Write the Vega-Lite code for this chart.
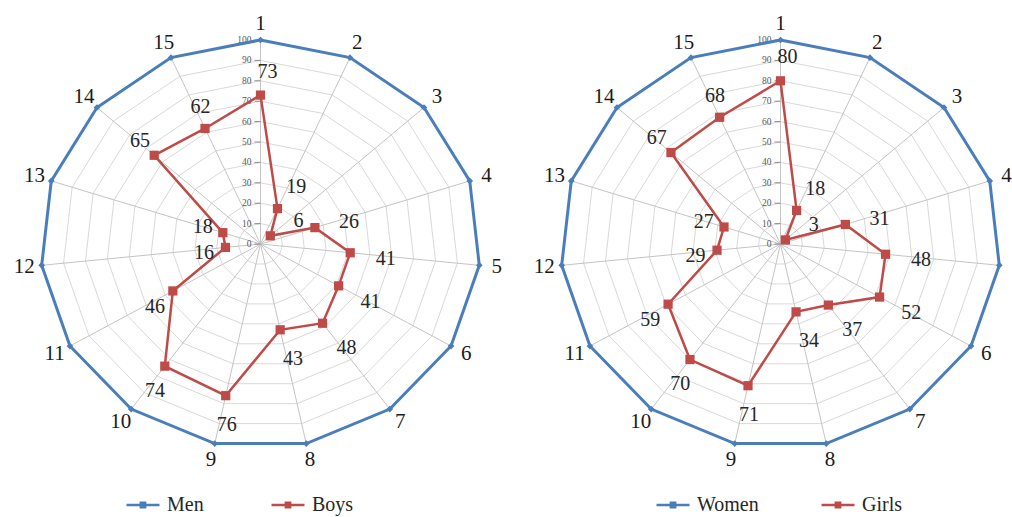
{
  "$schema": "https://vega.github.io/schema/vega-lite/v6.json",
  "padding": 0,
  "spacing": 0,
  "background": "white",
  "config": {"view": {"stroke": null}, "font": "Liberation Serif"},
  "datasets": {
    "levels": [
      {"level": 0, "axis": [1,2,3,4,5,6,7,8,9,10,11,12,13,14,15]},
      {"level": 10, "axis": [1,2,3,4,5,6,7,8,9,10,11,12,13,14,15]},
      {"level": 20, "axis": [1,2,3,4,5,6,7,8,9,10,11,12,13,14,15]},
      {"level": 30, "axis": [1,2,3,4,5,6,7,8,9,10,11,12,13,14,15]},
      {"level": 40, "axis": [1,2,3,4,5,6,7,8,9,10,11,12,13,14,15]},
      {"level": 50, "axis": [1,2,3,4,5,6,7,8,9,10,11,12,13,14,15]},
      {"level": 60, "axis": [1,2,3,4,5,6,7,8,9,10,11,12,13,14,15]},
      {"level": 70, "axis": [1,2,3,4,5,6,7,8,9,10,11,12,13,14,15]},
      {"level": 80, "axis": [1,2,3,4,5,6,7,8,9,10,11,12,13,14,15]},
      {"level": 90, "axis": [1,2,3,4,5,6,7,8,9,10,11,12,13,14,15]},
      {"level": 100, "axis": [1,2,3,4,5,6,7,8,9,10,11,12,13,14,15]}
    ],
    "left": [
      {"series": "Men", "axis": 1, "value": 100}, {"series": "Men", "axis": 2, "value": 100}, {"series": "Men", "axis": 3, "value": 100},
      {"series": "Men", "axis": 4, "value": 100}, {"series": "Men", "axis": 5, "value": 100}, {"series": "Men", "axis": 6, "value": 100},
      {"series": "Men", "axis": 7, "value": 100}, {"series": "Men", "axis": 8, "value": 100}, {"series": "Men", "axis": 9, "value": 100},
      {"series": "Men", "axis": 10, "value": 100}, {"series": "Men", "axis": 11, "value": 100}, {"series": "Men", "axis": 12, "value": 100},
      {"series": "Men", "axis": 13, "value": 100}, {"series": "Men", "axis": 14, "value": 100}, {"series": "Men", "axis": 15, "value": 100},
      {"series": "Boys", "axis": 1, "value": 73}, {"series": "Boys", "axis": 2, "value": 19}, {"series": "Boys", "axis": 3, "value": 6},
      {"series": "Boys", "axis": 4, "value": 26}, {"series": "Boys", "axis": 5, "value": 41}, {"series": "Boys", "axis": 6, "value": 41},
      {"series": "Boys", "axis": 7, "value": 48}, {"series": "Boys", "axis": 8, "value": 43}, {"series": "Boys", "axis": 9, "value": 76},
      {"series": "Boys", "axis": 10, "value": 74}, {"series": "Boys", "axis": 11, "value": 46}, {"series": "Boys", "axis": 12, "value": 16},
      {"series": "Boys", "axis": 13, "value": 18}, {"series": "Boys", "axis": 14, "value": 65}, {"series": "Boys", "axis": 15, "value": 62}
    ],
    "right": [
      {"series": "Women", "axis": 1, "value": 100}, {"series": "Women", "axis": 2, "value": 100}, {"series": "Women", "axis": 3, "value": 100},
      {"series": "Women", "axis": 4, "value": 100}, {"series": "Women", "axis": 5, "value": 100}, {"series": "Women", "axis": 6, "value": 100},
      {"series": "Women", "axis": 7, "value": 100}, {"series": "Women", "axis": 8, "value": 100}, {"series": "Women", "axis": 9, "value": 100},
      {"series": "Women", "axis": 10, "value": 100}, {"series": "Women", "axis": 11, "value": 100}, {"series": "Women", "axis": 12, "value": 100},
      {"series": "Women", "axis": 13, "value": 100}, {"series": "Women", "axis": 14, "value": 100}, {"series": "Women", "axis": 15, "value": 100},
      {"series": "Girls", "axis": 1, "value": 80}, {"series": "Girls", "axis": 2, "value": 18}, {"series": "Girls", "axis": 3, "value": 3},
      {"series": "Girls", "axis": 4, "value": 31}, {"series": "Girls", "axis": 5, "value": 48}, {"series": "Girls", "axis": 6, "value": 52},
      {"series": "Girls", "axis": 7, "value": 37}, {"series": "Girls", "axis": 8, "value": 34}, {"series": "Girls", "axis": 9, "value": 71},
      {"series": "Girls", "axis": 10, "value": 70}, {"series": "Girls", "axis": 11, "value": 59}, {"series": "Girls", "axis": 12, "value": 29},
      {"series": "Girls", "axis": 13, "value": 27}, {"series": "Girls", "axis": 14, "value": 67}, {"series": "Girls", "axis": 15, "value": 68}
    ]
  },
  "hconcat": [
    {
      "width": 520, "height": 517,
      "data": {"name": "left"},
      "transform": [
        {"calculate": "(datum.axis-1)*2*PI/15", "as": "th"},
        {"calculate": "datum.value*sin(datum.th)", "as": "px"},
        {"calculate": "datum.value*cos(datum.th)", "as": "py"}
      ],
      "layer": [
        {
          "data": {"name": "levels"},
          "transform": [
            {"filter": "datum.level > 0"},
            {"flatten": ["axis"]},
            {"calculate": "(datum.axis-1)*2*PI/15", "as": "th"},
            {"calculate": "datum.level*sin(datum.th)", "as": "px"},
            {"calculate": "datum.level*cos(datum.th)", "as": "py"}
          ],
          "mark": {"type": "line", "interpolate": "linear-closed", "color": "#d9d9d9", "strokeWidth": 1},
          "encoding": {
            "x": {"field": "px", "type": "quantitative", "scale": {"domain": [-118.4, 117.95], "nice": false, "zero": false}, "axis": null},
            "y": {"field": "py", "type": "quantitative", "scale": {"domain": [-133.8, 119.6], "nice": false, "zero": false}, "axis": null},
            "detail": {"field": "level", "type": "nominal"},
            "order": {"field": "axis", "type": "quantitative"}
          }
        },
        {
          "data": {"name": "levels"},
          "transform": [
            {"filter": "datum.level == 100"},
            {"flatten": ["axis"]},
            {"calculate": "(datum.axis-1)*2*PI/15", "as": "th"},
            {"calculate": "0", "as": "px"},
            {"calculate": "0", "as": "py"},
            {"calculate": "datum.level*sin(datum.th)", "as": "px2"},
            {"calculate": "datum.level*cos(datum.th)", "as": "py2"}
          ],
          "mark": {"type": "rule", "color": "#c4c4c4", "strokeWidth": 1},
          "encoding": {
            "x": {"field": "px", "type": "quantitative", "scale": {"domain": [-118.4, 117.95], "nice": false, "zero": false}, "axis": null},
            "y": {"field": "py", "type": "quantitative", "scale": {"domain": [-133.8, 119.6], "nice": false, "zero": false}, "axis": null},
            "x2": {"field": "px2"},
            "y2": {"field": "py2"}
          }
        },
        {
          "data": {"name": "levels"},
          "transform": [{"calculate": "0", "as": "px"}, {"calculate": "datum.level", "as": "py"}],
          "mark": {"type": "point", "shape": "M-1,0H0", "size": 144, "filled": false, "color": "#8c8c8c", "strokeWidth": 1, "opacity": 1},
          "encoding": {
            "x": {"field": "px", "type": "quantitative", "scale": {"domain": [-118.4, 117.95], "nice": false, "zero": false}, "axis": null},
            "y": {"field": "py", "type": "quantitative", "scale": {"domain": [-133.8, 119.6], "nice": false, "zero": false}, "axis": null}
          }
        },
        {
          "data": {"name": "levels"},
          "transform": [{"calculate": "0", "as": "px"}, {"calculate": "datum.level", "as": "py"}],
          "mark": {"type": "text", "align": "right", "baseline": "middle", "dx": -9, "fontSize": 9.5, "font": "Liberation Serif", "color": "#595959"},
          "encoding": {
            "x": {"field": "px", "type": "quantitative", "scale": {"domain": [-118.4, 117.95], "nice": false, "zero": false}, "axis": null},
            "y": {"field": "py", "type": "quantitative", "scale": {"domain": [-133.8, 119.6], "nice": false, "zero": false}, "axis": null},
            "text": {"field": "level", "type": "quantitative", "format": "d"}
          }
        },
        {
          "mark": {"type": "line", "interpolate": "linear-closed"},
          "encoding": {
            "x": {"field": "px", "type": "quantitative", "scale": {"domain": [-118.4, 117.95], "nice": false, "zero": false}, "axis": null},
            "y": {"field": "py", "type": "quantitative", "scale": {"domain": [-133.8, 119.6], "nice": false, "zero": false}, "axis": null},
            "order": {"field": "axis", "type": "quantitative"},
            "strokeWidth": {"condition": {"test": "datum.series === 'Men'", "value": 3}, "value": 2.5},
            "color": {
              "field": "series", "type": "nominal",
              "scale": {"domain": ["Men", "Boys"], "range": ["#4a7ebb", "#be4b48"]},
              "legend": {
                "orient": "none", "legendX": 125, "legendY": 487, "direction": "horizontal", "title": null,
                "padding": 0, "labelFont": "Liberation Serif", "labelFontSize": 20, "labelColor": "#262626",
                "symbolType": "M-1,0H1M-0.13,-0.13H0.13V0.13H-0.13Z",
                "symbolSize": 1089, "symbolStrokeWidth": 2.5, "columnPadding": 62, "labelOffset": 6, "gridAlign": "each",
                "encode": {
                  "symbols": {
                    "update": {
                      "shape": {"condition": {"test": "datum.value === 'Men' || datum.label === 'Men' || datum.index === 0", "value": "M-1,0H1M0,-0.12L0.12,0L0,0.12L-0.12,0Z"}, "value": "M-1,0H1M-0.13,-0.13H0.13V0.13H-0.13Z"},
                      "opacity": {"value": 1}
                    }
                  }
                }
              }
            }
          }
        },
        {
          "transform": [{"filter": "datum.series === 'Men'"}],
          "mark": {"type": "point", "filled": true, "opacity": 1, "shape": "diamond", "size": 45},
          "encoding": {
            "x": {"field": "px", "type": "quantitative", "scale": {"domain": [-118.4, 117.95], "nice": false, "zero": false}, "axis": null},
            "y": {"field": "py", "type": "quantitative", "scale": {"domain": [-133.8, 119.6], "nice": false, "zero": false}, "axis": null},
            "color": {"field": "series", "type": "nominal", "scale": {"domain": ["Men", "Boys"], "range": ["#4a7ebb", "#be4b48"]}}
          }
        },
        {
          "transform": [{"filter": "datum.series === 'Boys'"}],
          "mark": {"type": "point", "filled": true, "opacity": 1, "shape": "square", "size": 85},
          "encoding": {
            "x": {"field": "px", "type": "quantitative", "scale": {"domain": [-118.4, 117.95], "nice": false, "zero": false}, "axis": null},
            "y": {"field": "py", "type": "quantitative", "scale": {"domain": [-133.8, 119.6], "nice": false, "zero": false}, "axis": null},
            "color": {"field": "series", "type": "nominal", "scale": {"domain": ["Men", "Boys"], "range": ["#4a7ebb", "#be4b48"]}}
          }
        },
        {
          "transform": [
            {"filter": "datum.series === 'Boys'"},
            {"calculate": "(datum.value+13)*sin(datum.th)", "as": "lx"},
            {"calculate": "(datum.value+13)*cos(datum.th)", "as": "ly"}
          ],
          "mark": {"type": "text", "fontSize": 20, "font": "Liberation Serif", "color": "#262626", "align": "center", "baseline": "middle", "dx": 7, "dy": 3},
          "encoding": {
            "x": {"field": "lx", "type": "quantitative", "scale": {"domain": [-118.4, 117.95], "nice": false, "zero": false}, "axis": null},
            "y": {"field": "ly", "type": "quantitative", "scale": {"domain": [-133.8, 119.6], "nice": false, "zero": false}, "axis": null},
            "text": {"field": "value", "type": "quantitative"}
          }
        },
        {
          "transform": [
            {"filter": "datum.series === 'Men'"},
            {"calculate": "108*sin(datum.th)", "as": "lx"},
            {"calculate": "108*cos(datum.th)", "as": "ly"}
          ],
          "mark": {"type": "text", "fontSize": 21, "font": "Liberation Serif", "color": "#1a1a1a", "align": "center", "baseline": "middle"},
          "encoding": {
            "x": {"field": "lx", "type": "quantitative", "scale": {"domain": [-118.4, 117.95], "nice": false, "zero": false}, "axis": null},
            "y": {"field": "ly", "type": "quantitative", "scale": {"domain": [-133.8, 119.6], "nice": false, "zero": false}, "axis": null},
            "text": {"field": "axis", "type": "quantitative"}
          }
        }
      ]
    },
    {
      "width": 520, "height": 517,
      "data": {"name": "right"},
      "transform": [
        {"calculate": "(datum.axis-1)*2*PI/15", "as": "th"},
        {"calculate": "datum.value*sin(datum.th)", "as": "px"},
        {"calculate": "datum.value*cos(datum.th)", "as": "py"}
      ],
      "layer": [
        {
          "data": {"name": "levels"},
          "transform": [
            {"filter": "datum.level > 0"},
            {"flatten": ["axis"]},
            {"calculate": "(datum.axis-1)*2*PI/15", "as": "th"},
            {"calculate": "datum.level*sin(datum.th)", "as": "px"},
            {"calculate": "datum.level*cos(datum.th)", "as": "py"}
          ],
          "mark": {"type": "line", "interpolate": "linear-closed", "color": "#d9d9d9", "strokeWidth": 1},
          "encoding": {
            "x": {"field": "px", "type": "quantitative", "scale": {"domain": [-118.4, 117.95], "nice": false, "zero": false}, "axis": null},
            "y": {"field": "py", "type": "quantitative", "scale": {"domain": [-133.8, 119.6], "nice": false, "zero": false}, "axis": null},
            "detail": {"field": "level", "type": "nominal"},
            "order": {"field": "axis", "type": "quantitative"}
          }
        },
        {
          "data": {"name": "levels"},
          "transform": [
            {"filter": "datum.level == 100"},
            {"flatten": ["axis"]},
            {"calculate": "(datum.axis-1)*2*PI/15", "as": "th"},
            {"calculate": "0", "as": "px"},
            {"calculate": "0", "as": "py"},
            {"calculate": "datum.level*sin(datum.th)", "as": "px2"},
            {"calculate": "datum.level*cos(datum.th)", "as": "py2"}
          ],
          "mark": {"type": "rule", "color": "#c4c4c4", "strokeWidth": 1},
          "encoding": {
            "x": {"field": "px", "type": "quantitative", "scale": {"domain": [-118.4, 117.95], "nice": false, "zero": false}, "axis": null},
            "y": {"field": "py", "type": "quantitative", "scale": {"domain": [-133.8, 119.6], "nice": false, "zero": false}, "axis": null},
            "x2": {"field": "px2"},
            "y2": {"field": "py2"}
          }
        },
        {
          "data": {"name": "levels"},
          "transform": [{"calculate": "0", "as": "px"}, {"calculate": "datum.level", "as": "py"}],
          "mark": {"type": "point", "shape": "M-1,0H0", "size": 144, "filled": false, "color": "#8c8c8c", "strokeWidth": 1, "opacity": 1},
          "encoding": {
            "x": {"field": "px", "type": "quantitative", "scale": {"domain": [-118.4, 117.95], "nice": false, "zero": false}, "axis": null},
            "y": {"field": "py", "type": "quantitative", "scale": {"domain": [-133.8, 119.6], "nice": false, "zero": false}, "axis": null}
          }
        },
        {
          "data": {"name": "levels"},
          "transform": [{"calculate": "0", "as": "px"}, {"calculate": "datum.level", "as": "py"}],
          "mark": {"type": "text", "align": "right", "baseline": "middle", "dx": -9, "fontSize": 9.5, "font": "Liberation Serif", "color": "#595959"},
          "encoding": {
            "x": {"field": "px", "type": "quantitative", "scale": {"domain": [-118.4, 117.95], "nice": false, "zero": false}, "axis": null},
            "y": {"field": "py", "type": "quantitative", "scale": {"domain": [-133.8, 119.6], "nice": false, "zero": false}, "axis": null},
            "text": {"field": "level", "type": "quantitative", "format": "d"}
          }
        },
        {
          "mark": {"type": "line", "interpolate": "linear-closed"},
          "encoding": {
            "x": {"field": "px", "type": "quantitative", "scale": {"domain": [-118.4, 117.95], "nice": false, "zero": false}, "axis": null},
            "y": {"field": "py", "type": "quantitative", "scale": {"domain": [-133.8, 119.6], "nice": false, "zero": false}, "axis": null},
            "order": {"field": "axis", "type": "quantitative"},
            "strokeWidth": {"condition": {"test": "datum.series === 'Women'", "value": 3}, "value": 2.5},
            "color": {
              "field": "series", "type": "nominal",
              "scale": {"domain": ["Women", "Girls"], "range": ["#4a7ebb", "#be4b48"]},
              "legend": {
                "orient": "none", "legendX": 135, "legendY": 487, "direction": "horizontal", "title": null,
                "padding": 0, "labelFont": "Liberation Serif", "labelFontSize": 20, "labelColor": "#262626",
                "symbolType": "M-1,0H1M-0.13,-0.13H0.13V0.13H-0.13Z",
                "symbolSize": 1089, "symbolStrokeWidth": 2.5, "columnPadding": 57, "labelOffset": 6, "gridAlign": "each",
                "encode": {
                  "symbols": {
                    "update": {
                      "shape": {"condition": {"test": "datum.value === 'Women' || datum.label === 'Women' || datum.index === 0", "value": "M-1,0H1M0,-0.12L0.12,0L0,0.12L-0.12,0Z"}, "value": "M-1,0H1M-0.13,-0.13H0.13V0.13H-0.13Z"},
                      "opacity": {"value": 1}
                    }
                  }
                }
              }
            }
          }
        },
        {
          "transform": [{"filter": "datum.series === 'Women'"}],
          "mark": {"type": "point", "filled": true, "opacity": 1, "shape": "diamond", "size": 45},
          "encoding": {
            "x": {"field": "px", "type": "quantitative", "scale": {"domain": [-118.4, 117.95], "nice": false, "zero": false}, "axis": null},
            "y": {"field": "py", "type": "quantitative", "scale": {"domain": [-133.8, 119.6], "nice": false, "zero": false}, "axis": null},
            "color": {"field": "series", "type": "nominal", "scale": {"domain": ["Women", "Girls"], "range": ["#4a7ebb", "#be4b48"]}}
          }
        },
        {
          "transform": [{"filter": "datum.series === 'Girls'"}],
          "mark": {"type": "point", "filled": true, "opacity": 1, "shape": "square", "size": 85},
          "encoding": {
            "x": {"field": "px", "type": "quantitative", "scale": {"domain": [-118.4, 117.95], "nice": false, "zero": false}, "axis": null},
            "y": {"field": "py", "type": "quantitative", "scale": {"domain": [-133.8, 119.6], "nice": false, "zero": false}, "axis": null},
            "color": {"field": "series", "type": "nominal", "scale": {"domain": ["Women", "Girls"], "range": ["#4a7ebb", "#be4b48"]}}
          }
        },
        {
          "transform": [
            {"filter": "datum.series === 'Girls'"},
            {"calculate": "(datum.value+13)*sin(datum.th)", "as": "lx"},
            {"calculate": "(datum.value+13)*cos(datum.th)", "as": "ly"}
          ],
          "mark": {"type": "text", "fontSize": 20, "font": "Liberation Serif", "color": "#262626", "align": "center", "baseline": "middle", "dx": 7, "dy": 3},
          "encoding": {
            "x": {"field": "lx", "type": "quantitative", "scale": {"domain": [-118.4, 117.95], "nice": false, "zero": false}, "axis": null},
            "y": {"field": "ly", "type": "quantitative", "scale": {"domain": [-133.8, 119.6], "nice": false, "zero": false}, "axis": null},
            "text": {"field": "value", "type": "quantitative"}
          }
        },
        {
          "transform": [
            {"filter": "datum.series === 'Women'"},
            {"calculate": "108*sin(datum.th)", "as": "lx"},
            {"calculate": "108*cos(datum.th)", "as": "ly"}
          ],
          "mark": {"type": "text", "fontSize": 21, "font": "Liberation Serif", "color": "#1a1a1a", "align": "center", "baseline": "middle"},
          "encoding": {
            "x": {"field": "lx", "type": "quantitative", "scale": {"domain": [-118.4, 117.95], "nice": false, "zero": false}, "axis": null},
            "y": {"field": "ly", "type": "quantitative", "scale": {"domain": [-133.8, 119.6], "nice": false, "zero": false}, "axis": null},
            "text": {"field": "axis", "type": "quantitative"}
          }
        }
      ]
    }
  ],
  "resolve": {"scale": {"color": "independent"}, "legend": {"color": "independent"}}
}
